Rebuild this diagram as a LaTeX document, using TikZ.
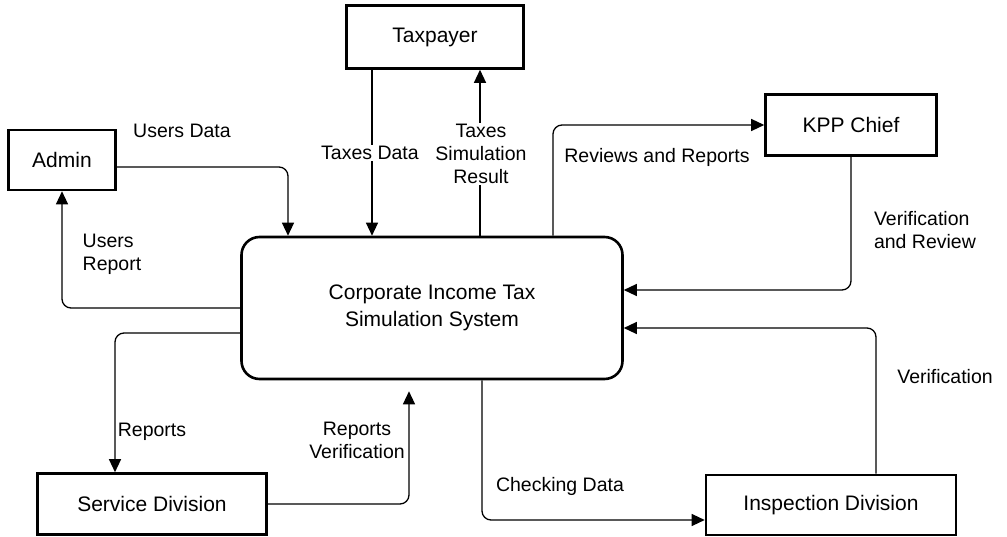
\documentclass[tikz,border=0pt]{standalone}
\usepackage{fontspec}
\setmainfont{Liberation Sans}
\usetikzlibrary{arrows.meta}
\usetikzlibrary{positioning}

\begin{document}
\begin{tikzpicture}[x=1pt,y=-1pt,
	font=\fontsize{19.5}{23}\selectfont,
	entity/.style={draw,line width=2.6pt,inner sep=0pt,font=\fontsize{21}{25}\selectfont},
	process/.style={draw,line width=2.6pt,rounded corners=18pt,align=center,inner sep=0pt,
		font=\fontsize{21}{25}\selectfont},
	flow/.style={-{Triangle[length=13pt,width=12pt]},line width=1.3pt,rounded corners=9pt},
	lbl/.style={align=center,inner sep=1pt}]

	\useasboundingbox (0,0) rectangle (1007,537);

	% entities and the system
	\node [process,minimum width=381pt,minimum height=142pt] (main) at (432,308)
		{Corporate Income Tax\\[2pt]Simulation System};
	\node [entity,minimum width=107pt,minimum height=60pt] (admin) at (62,160) {Admin};
	\node [entity,minimum width=177pt,minimum height=63pt] (tax) at (435,37) {Taxpayer};
	\node [entity,minimum width=171pt,minimum height=61pt] (kpp) at (851,125) {KPP Chief};
	\node [entity,minimum width=229pt,minimum height=61pt] (serv) at (152,504) {Service Division};
	\node [entity,minimum width=250pt,minimum height=60pt] (insp) at (831,505) {Inspection Division};

	% flows
	\draw [flow] ([yshift=-7pt]admin.east) -| ([xshift=-144pt]main.north);
	\draw [flow] (main.west) -| (admin.south);
	\draw [flow] ([xshift=-63pt]tax.south) -- ([xshift=-63pt]tax.south |- main.north);
	\draw [flow] ([xshift=48pt]main.north) -- ([xshift=48pt]main.north |- tax.south);
	\draw [flow] ([xshift=121pt]main.north) |- (kpp.west);
	\draw [flow] (kpp.south) |- ([yshift=18pt]main.east);
	\draw [flow] ([yshift=-25pt]main.west) -| ([xshift=-37pt]serv.north);
	\draw [flow] (serv.east) -| ([xshift=-23pt,yshift=-11pt]main.south);
	\draw [flow] ([xshift=50pt]main.south) |- ([yshift=-15pt]insp.west);
	\draw [flow] ([xshift=45pt]insp.north) |- ([yshift=-20pt]main.east);

	% labels
	\node [lbl] (usersdata) at (182,131) {Users Data};
	\node [lbl,align=left] (usersrep) at (112,254) {Users\\Report};
	\node [lbl,fill=white] (taxesdata) at (370,153) {Taxes Data};
	\node [lbl,fill=white] (taxesres) at (481,154) {Taxes\\Simulation\\Result};
	\node [lbl] (revrep) at (657,157) {Reviews and Reports};
	\node [lbl,align=left] (verrev) at (925,230) {Verification\\and Review};
	\node [lbl] (reports) at (152,432) {Reports};
	\node [lbl] (repver) at (357,440) {Reports\\Verification};
	\node [lbl] (verif) at (945,377) {Verification};
	\node [lbl] (checkdata) at (560,486) {Checking Data};
\end{tikzpicture}
\end{document}
